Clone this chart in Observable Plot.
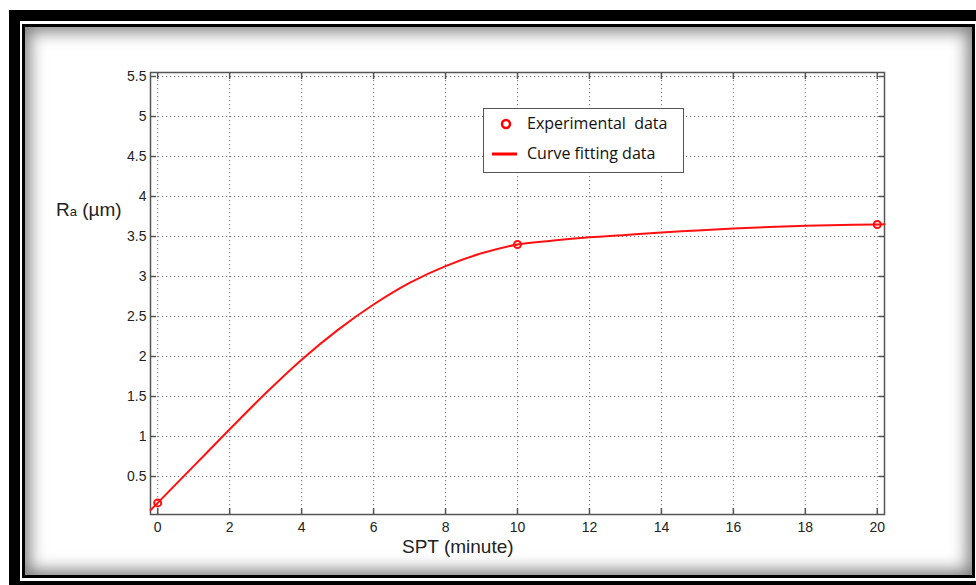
<!DOCTYPE html>
<html>
<head>
<meta charset="utf-8">
<script src="https://cdn.jsdelivr.net/npm/d3@7"></script>
<script src="https://cdn.jsdelivr.net/npm/@observablehq/plot@0.6"></script>
<style>
  html, body { margin: 0; padding: 0; background: #fff; }
  #wrap { position: relative; width: 976px; height: 585px; overflow: hidden; background: #fff; }
  .outer { position: absolute; left: 9px; top: 10px; width: 1000px; height: 600px; background: #000; }
  .gap { position: absolute; left: 20px; top: 21px; width: 958px; height: 560px; background: #fff; }
  .inner { position: absolute; left: 22px; top: 24px; width: 947px; height: 548px; border: 3px solid #000; background: #fff;
           box-shadow: inset 0 0 16px 5px rgba(0,0,0,0.5); }
  #chart { position: absolute; left: 0; top: 0; }
  .lab { position: absolute; font-family: "Liberation Sans", Arial, sans-serif; color: #222; white-space: nowrap; }
  #legend { position: absolute; left: 483px; top: 108px; width: 199px; height: 63px; border: 1.5px solid #555; background: #fff;
            font-family: "Open Sans", "Liberation Sans", sans-serif; font-size: 16px; color: #111; }
  #legend .row { position: absolute; left: 0; height: 24px; line-height: 24px; }
  #legend .txt { position: absolute; left: 43px; }
</style>
</head>
<body>
<div id="wrap">
  <div class="outer"></div>
  <div class="gap"></div>
  <div class="inner"></div>
  <div id="chart"></div>
  <div class="lab" style="left:56px; top:199px; font-size:19px;">R<span style="font-size:13px;">a</span> (µm)</div>
  <div class="lab" style="left:402px; top:536px; font-size:19px;">SPT (minute)</div>
  <div id="legend">
    <div class="row" style="top:2px; width:199px;">
      <svg style="position:absolute;left:15px;top:6px" width="14" height="14"><circle cx="7" cy="7" r="4" fill="none" stroke="#f00" stroke-width="2.5"/></svg>
      <span class="txt">Experimental&nbsp; data</span>
    </div>
    <div class="row" style="top:32px; width:199px;">
      <svg style="position:absolute;left:8px;top:10px" width="26" height="6"><line x1="0" y1="3" x2="25" y2="3" stroke="#f00" stroke-width="3"/></svg>
      <span class="txt">Curve fitting data</span>
    </div>
  </div>
</div>
<script>
// Experimental data
const expX = [0, 10, 20];
const expY = [0.17, 3.4, 3.65];

// Curve fitting data
const fitX = [-0.2, 0, 1, 2, 3, 4, 5, 6, 7, 8, 9, 10, 11, 12, 13, 14, 15, 16, 17, 18, 19, 20, 20.2];
const fitY = [0.08, 0.17, 0.63, 1.09, 1.54, 1.96, 2.33, 2.65, 2.92, 3.13, 3.29, 3.4, 3.45, 3.49, 3.52, 3.55, 3.575, 3.6, 3.62, 3.635, 3.645, 3.65, 3.652];

// Tick labels
const xTicks = [0, 2, 4, 6, 8, 10, 12, 14, 16, 18, 20];
const yTicks = [0.5, 1, 1.5, 2, 2.5, 3, 3.5, 4, 4.5, 5, 5.5];

const expData = expX.map((x, i) => ({x, y: expY[i]}));
const fitData = fitX.map((x, i) => ({x, y: fitY[i]}));

const gridStyle = {stroke: "#777", strokeOpacity: 1, strokeWidth: 1, strokeDasharray: "1.2,2.8"};
const tickStyle = {stroke: "#555", strokeWidth: 1.5};

const chart = Plot.plot({
  width: 976,
  height: 585,
  marginLeft: 150,
  marginRight: 92,
  marginTop: 72,
  marginBottom: 71,
  style: {background: "transparent", fontFamily: "Liberation Sans, Arial, sans-serif", fontSize: "14px", color: "#222"},
  x: {domain: [-0.2, 20.2], ticks: xTicks},
  y: {domain: [0.025, 5.55], ticks: yTicks},
  marks: [
    Plot.gridX(xTicks, gridStyle),
    Plot.gridY(yTicks, gridStyle),
    Plot.axisX(xTicks, {anchor: "bottom", tickSize: -6, tickPadding: 14, label: null, fontSize: 14, ...tickStyle}),
    Plot.axisX(xTicks, {anchor: "top", tickSize: -6, tickFormat: () => "", label: null, ...tickStyle}),
    Plot.axisY(yTicks, {anchor: "left", tickSize: -6, tickPadding: 10, label: null, fontSize: 14, tickFormat: d => String(d), ...tickStyle}),
    Plot.axisY(yTicks, {anchor: "right", tickSize: -6, tickFormat: () => "", label: null, ...tickStyle}),
    Plot.frame({stroke: "#555", strokeWidth: 1.5}),
    Plot.line(fitData, {x: "x", y: "y", stroke: "#ff1010", strokeWidth: 2, curve: "catmull-rom"}),
    Plot.dot(expData, {x: "x", y: "y", r: 3.5, stroke: "#ff1010", strokeWidth: 2, fill: "none"})
  ]
});
document.getElementById("chart").appendChild(chart);
</script>
</body>
</html>
